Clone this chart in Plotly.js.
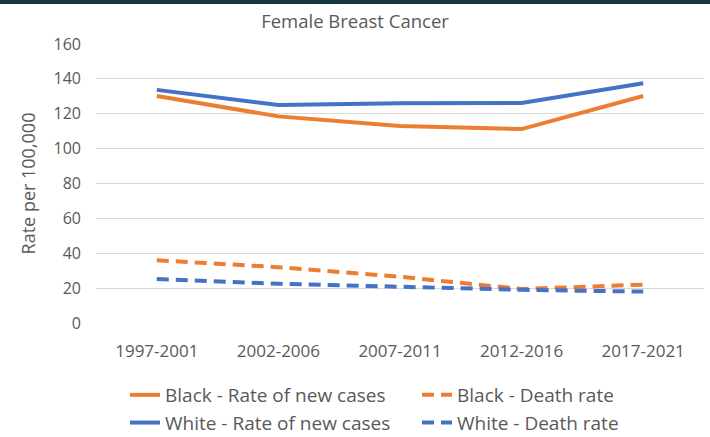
<!DOCTYPE html>
<html>
<head>
<meta charset="utf-8">
<script src="https://cdn.plot.ly/plotly-3.0.1.min.js"></script>
<style>
html,body{margin:0;padding:0;background:#fff;}
#chart{width:710px;height:437px;}
</style>
</head>
<body>
<div id="chart"></div>
<script>
const periods = ["1997-2001", "2002-2006", "2007-2011", "2012-2016", "2017-2021"];
const blackNewCases = [130.2, 118.5, 113, 111.2, 130.2];
const blackDeathRate = [36, 32, 26.5, 19.5, 22];
const whiteNewCases = [133.7, 125, 126, 126.2, 137.5];
const whiteDeathRate = [25.2, 22.5, 20.8, 19, 18];
const yTicks = [0, 20, 40, 60, 80, 100, 120, 140, 160];

const orange = "#ED7D31";
const blue = "#4472C4";
const textColor = "#595959";
const font = "Open Sans, Liberation Sans, sans-serif";

const traces = [
  {x: periods, y: blackNewCases, name: "Black - Rate of new cases", mode: "lines",
   legend: "legend", line: {color: orange, width: 4}},
  {x: periods, y: blackDeathRate, name: "Black - Death rate", mode: "lines",
   legend: "legend2", line: {color: orange, width: 4, dash: "12px,7px"}},
  {x: periods, y: whiteNewCases, name: "White - Rate of new cases", mode: "lines",
   legend: "legend", line: {color: blue, width: 4}},
  {x: periods, y: whiteDeathRate, name: "White - Death rate", mode: "lines",
   legend: "legend2", line: {color: blue, width: 4, dash: "12px,7px"}}
];

const mL = 96, mR = 6, mT = 44, mB = 114;
const plotH = 437 - mT - mB;
const plotW = 710 - mL - mR;
const legTop = -(376 - (437 - mB)) / plotH;

const legendCommon = {
  orientation: "v", xanchor: "left", y: legTop, yanchor: "top",
  font: {size: 19, color: textColor, family: font}, itemwidth: 30,
  bgcolor: "rgba(0,0,0,0)", tracegroupgap: 0
};

const layout = {
  width: 710, height: 437,
  margin: {l: mL, r: mR, t: mT, b: mB, autoexpand: false},
  paper_bgcolor: "#fff", plot_bgcolor: "#fff",
  font: {family: font, color: textColor},
  title: {text: "Female Breast Cancer", font: {size: 18.5, color: textColor, family: font},
          x: 0.5, xref: "container", xanchor: "center", y: 1 - 22/437, yanchor: "middle"},
  xaxis: {type: "category", showgrid: false, zeroline: false, showline: false,
          ticks: "", tickfont: {size: 17, color: textColor}, ticklabelstandoff: 16,
          range: [-0.5, 4.5], fixedrange: true},
  yaxis: {range: [0, 160], tickvals: yTicks, showgrid: true, gridcolor: "#d9d9d9",
          gridwidth: 1, zeroline: false, showline: false, ticks: "",
          tickfont: {size: 16, color: textColor}, ticklabelstandoff: 14,
          title: {text: "Rate per 100,000", font: {size: 18, color: textColor}, standoff: 13}},
  showlegend: true,
  legend: Object.assign({}, legendCommon, {x: (125 - mL) / plotW}),
  legend2: Object.assign({}, legendCommon, {x: (417 - mL) / plotW}),
  shapes: [{type: "rect", xref: "paper", yref: "paper",
            x0: -mL/plotW, x1: 1 + mR/plotW, y0: 1 + (mT - 4)/plotH, y1: 1 + (mT + 1)/plotH,
            fillcolor: "#153A3D", line: {width: 0}, layer: "above"}]
};

Plotly.newPlot("chart", traces, layout, {displayModeBar: false, staticPlot: true});
</script>
</body>
</html>
